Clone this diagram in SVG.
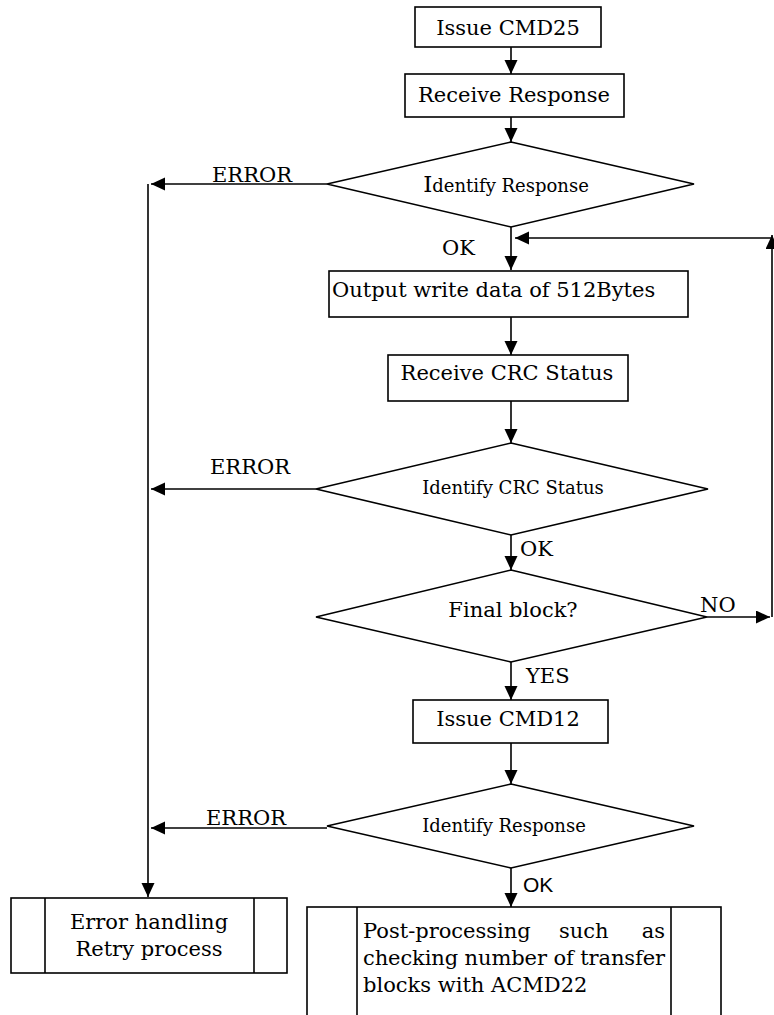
<svg xmlns="http://www.w3.org/2000/svg" width="774" height="1015" viewBox="0 0 774 1015">
  <style>
    .shape { fill: #fff; stroke: #000; stroke-width: 1.6; }
    .line { fill: none; stroke: #000; stroke-width: 1.6; }
    .wire { fill: none; stroke: #000; stroke-width: 1.6; marker-end: url(#arrow); }
    .t { font-family: "DejaVu Serif", "Liberation Serif", serif; font-size: 21px; fill: #000; }
    .s { font-family: "DejaVu Serif", "Liberation Serif", serif; font-size: 18px; fill: #000; }
    .sans { font-family: "Liberation Sans", Arial, sans-serif; font-size: 21px; fill: #000; }
    .c { text-anchor: middle; }
  </style>
  <defs>
    <marker id="arrow" markerUnits="userSpaceOnUse" markerWidth="14" markerHeight="14" refX="14" refY="6.5" orient="auto">
      <path d="M0,0 L14,6.5 L0,13 z" fill="#000"/>
    </marker>
  </defs>

  <rect width="774" height="1015" fill="#fff"/>

  <!-- connectors -->
  <g id="connectors">
    <line class="wire" x1="511" y1="47" x2="511" y2="74"/>
    <line class="wire" x1="511" y1="117" x2="511" y2="142"/>
    <line class="wire" x1="327" y1="184" x2="151" y2="184"/>
    <line class="wire" x1="148" y1="184" x2="148" y2="897"/>
    <line class="wire" x1="511" y1="227" x2="511" y2="270"/>
    <line class="wire" x1="772" y1="238" x2="515" y2="238"/>
    <line class="wire" x1="772" y1="617" x2="772" y2="235"/>
    <line class="wire" x1="511" y1="317" x2="511" y2="355"/>
    <line class="wire" x1="511" y1="401" x2="511" y2="443"/>
    <line class="wire" x1="316" y1="489" x2="151" y2="489"/>
    <line class="wire" x1="511" y1="535" x2="511" y2="570"/>
    <line class="wire" x1="707" y1="617" x2="770" y2="617"/>
    <line class="wire" x1="511" y1="662" x2="511" y2="700"/>
    <line class="wire" x1="511" y1="743" x2="511" y2="784"/>
    <line class="wire" x1="327" y1="828" x2="151" y2="828"/>
    <line class="wire" x1="511" y1="868" x2="511" y2="907"/>
    <text class="t" x="212" y="182">ERROR</text>
    <text class="t" x="442" y="255">OK</text>
    <text class="t" x="210" y="474">ERROR</text>
    <text class="t" x="520" y="556">OK</text>
    <text class="t" x="700" y="612">NO</text>
    <text class="t" x="526" y="683">YES</text>
    <text class="t" x="206" y="825">ERROR</text>
    <text class="sans" x="523" y="892">OK</text>
  </g>

  <g id="issue-cmd25">
    <rect class="shape" x="415" y="7" width="186" height="40"/>
    <text class="t c" x="508" y="35">Issue CMD25</text>
  </g>

  <g id="receive-response">
    <rect class="shape" x="405" y="74" width="219" height="43"/>
    <text class="t c" x="514" y="102">Receive Response</text>
  </g>

  <g id="identify-response-1">
    <polygon class="shape" points="511,142 694,184 511,227 327,184"/>
    <text class="s c" x="506" y="192"><tspan font-size="23">I</tspan>dentify Response</text>
  </g>

  <g id="output-write-data">
    <rect class="shape" x="329" y="271" width="359" height="46"/>
    <text class="t" x="332" y="297">Output write data of 512Bytes</text>
  </g>

  <g id="receive-crc-status">
    <rect class="shape" x="388" y="355" width="240" height="46"/>
    <text class="t c" x="507" y="380">Receive CRC Status</text>
  </g>

  <g id="identify-crc-status">
    <polygon class="shape" points="511,443 708,489 511,535 316,489"/>
    <text class="s c" x="513" y="494">Identify CRC Status</text>
  </g>

  <g id="final-block">
    <polygon class="shape" points="511,570 707,617 511,662 316,617"/>
    <text class="t c" x="513" y="617">Final block?</text>
  </g>

  <g id="issue-cmd12">
    <rect class="shape" x="413" y="700" width="195" height="43"/>
    <text class="t c" x="508" y="726">Issue CMD12</text>
  </g>

  <g id="identify-response-2">
    <polygon class="shape" points="511,784 694,826 511,868 327,826"/>
    <text class="s c" x="504" y="832">Identify Response</text>
  </g>

  <g id="error-handling">
    <rect class="shape" x="11" y="898" width="276" height="75"/>
    <line class="line" x1="45" y1="898" x2="45" y2="973"/>
    <line class="line" x1="254" y1="898" x2="254" y2="973"/>
    <text class="t c" x="149" y="929">Error handling</text>
    <text class="t c" x="149" y="956">Retry process</text>
  </g>

  <g id="post-processing">
    <rect class="shape" x="307" y="907" width="414" height="130"/>
    <line class="line" x1="357" y1="907" x2="357" y2="1037"/>
    <line class="line" x1="671" y1="907" x2="671" y2="1037"/>
    <text class="t" x="363" y="938">Post-processing</text>
    <text class="t" x="559" y="938">such</text>
    <text class="t" x="665" y="938" text-anchor="end">as</text>
    <text class="t" x="363" y="965" textLength="302" lengthAdjust="spacing">checking number of transfer</text>
    <text class="t" x="363" y="992">blocks with ACMD22</text>
  </g>
</svg>
